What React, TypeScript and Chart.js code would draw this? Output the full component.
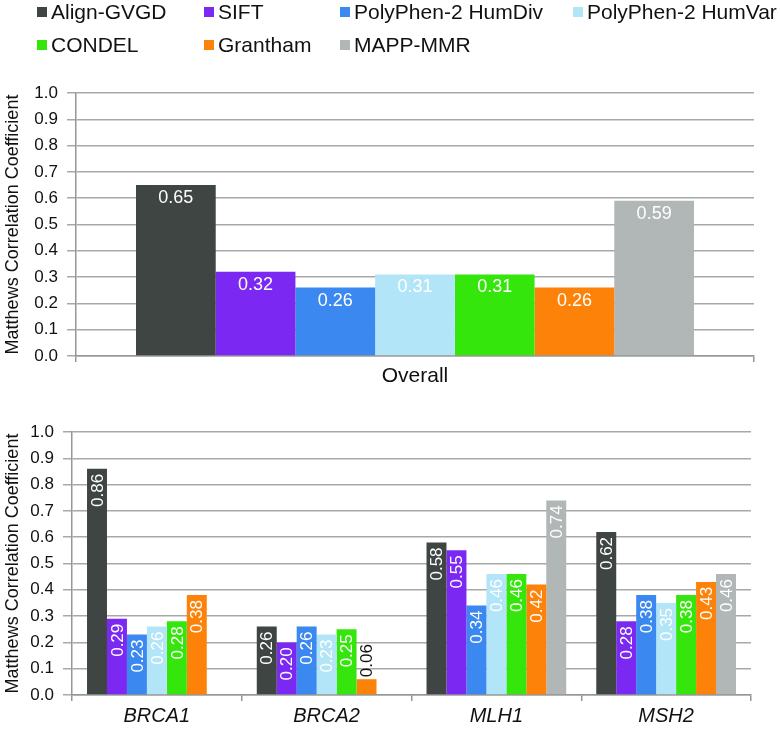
import React, { useEffect, useRef } from "react";
import { Chart, registerables } from "chart.js";

Chart.register(...registerables);

const seriesNames = [
  "Align-GVGD",
  "SIFT",
  "PolyPhen-2 HumDiv",
  "PolyPhen-2 HumVar",
  "CONDEL",
  "Grantham",
  "MAPP-MMR",
];
const seriesColors = ["#3e4543", "#7b28f2", "#3a88f0", "#b3e5f8", "#35e60c", "#fd820a", "#b0b7b6"];

const overallCategories = ["Overall"];
const overallValues = [0.65, 0.32, 0.26, 0.31, 0.31, 0.26, 0.59];

const geneCategories = ["BRCA1", "BRCA2", "MLH1", "MSH2"];
const alignGvgd = [0.86, 0.26, 0.58, 0.62];
const sift = [0.29, 0.2, 0.55, 0.28];
const humDiv = [0.23, 0.26, 0.34, 0.38];
const humVar = [0.26, 0.23, 0.46, 0.35];
const condel = [0.28, 0.25, 0.46, 0.38];
const grantham = [0.38, 0.06, 0.42, 0.43];
const mappMmr = [null, null, 0.74, 0.46];
const geneSeries = [alignGvgd, sift, humDiv, humVar, condel, grantham, mappMmr];

const yTickValues = [0, 0.1, 0.2, 0.3, 0.4, 0.5, 0.6, 0.7, 0.8, 0.9, 1.0];
const yTitle = "Matthews Correlation Coefficient";

const FONT = "'Liberation Sans', Arial, Helvetica, sans-serif";
const GRID = "#a8a8a8";
const AXIS = "#969696";

const legendColumns = [37, 204, 340, 573];
const legendRows = [12, 45];

const gridLegendPlugin = {
  id: "gridLegend",
  afterDraw(chart: any) {
    const ctx = chart.ctx;
    ctx.save();
    ctx.font = `21px ${FONT}`;
    ctx.textBaseline = "middle";
    ctx.textAlign = "left";
    seriesNames.forEach((name, i) => {
      const col = i < 4 ? i : i - 4;
      const row = i < 4 ? 0 : 1;
      const x = legendColumns[col];
      const y = legendRows[row];
      ctx.fillStyle = seriesColors[i];
      ctx.fillRect(x, y - 5, 10, 10);
      ctx.fillStyle = "#111";
      ctx.fillText(name, x + 14, y + 1);
    });
    ctx.restore();
  },
};

function makeLabelPlugin(vertical: boolean) {
  return {
    id: "barValueLabels",
    afterDatasetsDraw(chart: any) {
      const ctx = chart.ctx;
      ctx.save();
      chart.data.datasets.forEach((ds: any, di: number) => {
        const meta = chart.getDatasetMeta(di);
        meta.data.forEach((bar: any, idx: number) => {
          const v = ds.data[idx];
          if (v === null || v === undefined) return;
          const txt = v.toFixed(2);
          const { x, y, base } = bar.getProps(["x", "y", "base"], true);
          if (!vertical) {
            ctx.font = `18px ${FONT}`;
            ctx.fillStyle = "#ffffff";
            ctx.textAlign = "center";
            ctx.textBaseline = "middle";
            ctx.fillText(txt, x, y + 13);
          } else {
            ctx.font = `17px ${FONT}`;
            const w = ctx.measureText(txt).width;
            const h = base - y;
            ctx.save();
            ctx.translate(x, y);
            ctx.rotate(-Math.PI / 2);
            ctx.textBaseline = "middle";
            if (h >= w + 10) {
              ctx.fillStyle = "#ffffff";
              ctx.textAlign = "right";
              ctx.fillText(txt, -5, 1);
            } else {
              ctx.fillStyle = "#111111";
              ctx.textAlign = "left";
              ctx.fillText(txt, 2, 1);
            }
            ctx.restore();
          }
        });
      });
      ctx.restore();
    },
  };
}

function buildOptions(cfg: {
  yWidth: number;
  xHeight: number;
  padding: any;
  xFont: any;
  xPad: number;
}) {
  return {
    responsive: false,
    animation: false as const,
    layout: { padding: cfg.padding },
    plugins: {
      legend: { display: false },
      tooltip: { enabled: false },
      title: { display: false },
    },
    datasets: {
      bar: { categoryPercentage: 0.823, barPercentage: 1.0 },
    },
    scales: {
      x: {
        offset: true,
        grid: {
          display: true,
          offset: true,
          drawOnChartArea: false,
          drawTicks: true,
          tickLength: 6,
          color: AXIS,
          lineWidth: 1.5,
        },
        border: { display: true, color: AXIS, width: 1.5 },
        ticks: { color: "#111", font: cfg.xFont, padding: cfg.xPad, maxRotation: 0 },
        afterFit(s: any) {
          s.height = cfg.xHeight;
        },
      },
      y: {
        min: 0,
        max: 1,
        afterBuildTicks(s: any) {
          s.ticks = yTickValues.map((v) => ({ value: v }));
        },
        ticks: {
          color: "#111",
          font: { family: FONT, size: 17 },
          padding: 9,
          callback: (v: any) => Number(v).toFixed(1),
        },
        grid: {
          color: GRID,
          lineWidth: 1.5,
          tickLength: 9,
          drawTicks: true,
        },
        border: { display: true, color: AXIS, width: 1.5 },
        title: {
          display: true,
          text: yTitle,
          color: "#111",
          font: { family: FONT, size: 18 },
          padding: { top: 2, bottom: 0 },
        },
        afterFit(s: any) {
          s.width = cfg.yWidth;
        },
      },
    },
  };
}

export default function App() {
  const topRef = useRef<HTMLCanvasElement | null>(null);
  const botRef = useRef<HTMLCanvasElement | null>(null);

  useEffect(() => {
    const top = new Chart(topRef.current as HTMLCanvasElement, {
      type: "bar",
      data: {
        labels: overallCategories,
        datasets: seriesNames.map((name, i) => ({
          label: name,
          data: [overallValues[i]],
          backgroundColor: seriesColors[i],
          borderWidth: 0,
        })),
      },
      options: buildOptions({
        yWidth: 76,
        xHeight: 34,
        padding: { top: 93, right: 26, bottom: 10, left: 0 },
        xFont: { family: FONT, size: 21 },
        xPad: 2,
      }) as any,
      plugins: [gridLegendPlugin, makeLabelPlugin(false)],
    });

    const bottom = new Chart(botRef.current as HTMLCanvasElement, {
      type: "bar",
      data: {
        labels: geneCategories,
        datasets: seriesNames.map((name, i) => ({
          label: name,
          data: geneSeries[i],
          backgroundColor: seriesColors[i],
          borderWidth: 0,
        })),
      },
      options: buildOptions({
        yWidth: 72,
        xHeight: 35,
        padding: { top: 32, right: 29, bottom: 0, left: 0 },
        xFont: { family: FONT, size: 20, style: "italic" },
        xPad: 3,
      }) as any,
      plugins: [makeLabelPlugin(true)],
    });

    return () => {
      top.destroy();
      bottom.destroy();
    };
  }, []);

  return (
    <div
      style={{
        position: "fixed",
        left: 0,
        top: 0,
        width: 780,
        height: 730,
        background: "#ffffff",
      }}
    >
      <canvas ref={topRef} width={780} height={400} style={{ display: "block", position: "absolute", left: 0, top: 0 }} />
      <canvas ref={botRef} width={780} height={330} style={{ display: "block", position: "absolute", left: 0, top: 400 }} />
    </div>
  );
}
